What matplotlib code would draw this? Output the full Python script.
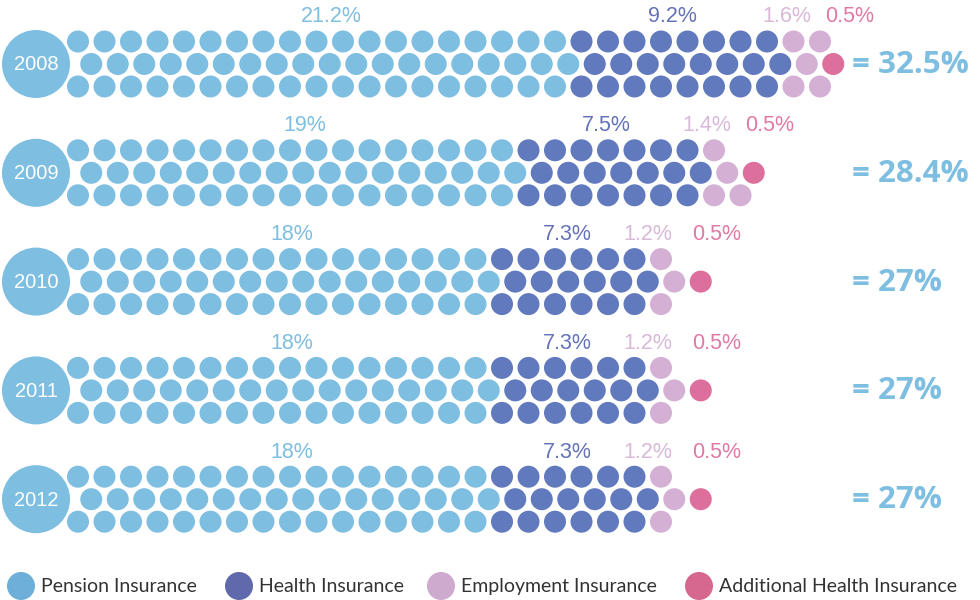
import matplotlib
matplotlib.use("Agg")
import matplotlib.pyplot as plt
from matplotlib.patches import Circle

# ---------------- data ----------------
years = ['2008', '2009', '2010', '2011', '2012']
pension_pct = [21.2, 19, 18, 18, 18]
health_pct = [9.2, 7.5, 7.3, 7.3, 7.3]
employment_pct = [1.6, 1.4, 1.2, 1.2, 1.2]
additional_pct = [0.5, 0.5, 0.5, 0.5, 0.5]
totals = [32.5, 28.4, 27, 27, 27]

# dots per row (top, middle, bottom) for each year
pension_dots = [[19, 19, 19], [17, 17, 17], [16, 16, 16], [16, 16, 16], [16, 16, 16]]
health_dots = [[8, 8, 8], [7, 7, 7], [6, 6, 6], [6, 6, 6], [6, 6, 6]]
employment_dots = [[2, 1, 2], [1, 1, 2], [1, 1, 1], [1, 1, 1], [1, 1, 1]]
additional_dots = [[0, 1, 0], [0, 1, 0], [0, 1, 0], [0, 1, 0], [0, 1, 0]]

categories = ['Pension Insurance', 'Health Insurance', 'Employment Insurance',
              'Additional Health Insurance']

# ---------------- style ----------------
dot_colors = ['#7DBEE1', '#6179BD', '#D4B0D4', '#DD6F9C']
label_colors = ['#7DBEE1', '#6472B9', '#D9B8D8', '#E07AA4']
legend_colors = ['#6DAFD8', '#5F69AC', '#CFAACF', '#D6678E']
total_color = '#7DBEE1'
year_color = '#7DBEE1'

pitch = 26.5
r_dot = 11
row_dy = 22.5
x_start = 78
block_y0 = 64
block_step = 108.8
year_cx = 36
year_r = 34

fig = plt.figure(figsize=(9.8, 6.0), dpi=100)
ax = fig.add_axes([0, 0, 1, 1])
ax.set_xlim(0, 980)
ax.set_ylim(600, 0)
ax.set_aspect('equal')
ax.axis('off')

pct_lists = [pension_pct, health_pct, employment_pct, additional_pct]
dot_lists = [pension_dots, health_dots, employment_dots, additional_dots]

for i, yr in enumerate(years):
    yc = block_y0 + block_step * i
    ax.add_patch(Circle((year_cx, yc), year_r, color=year_color, lw=0))
    ax.text(year_cx, yc + 1, yr, color='white', ha='center', va='center',
            fontsize=14.5, family='Liberation Sans')
    for row in range(3):
        y = yc + (row - 1) * row_dy
        x_off = x_start + (pitch / 2 if row == 1 else 0)
        k = 0
        for c in range(4):
            n = dot_lists[c][i][row]
            for _ in range(n):
                x = x_off + k * pitch
                ax.add_patch(Circle((x, y), r_dot, color=dot_colors[c], lw=0))
                k += 1
    # segment spans (min/max x over rows) for labels
    seg = []
    for c in range(4):
        lo, hi = 1e9, -1e9
        for row in range(3):
            x_off = x_start + (pitch / 2 if row == 1 else 0)
            before = sum(dot_lists[cc][i][row] for cc in range(c))
            n = dot_lists[c][i][row]
            if n > 0:
                lo = min(lo, x_off + before * pitch)
                hi = max(hi, x_off + (before + n - 1) * pitch)
        seg.append((lo, hi))
    label_y = yc - 47
    shifts = [8, -8, -20, 16]
    for c in range(4):
        lo, hi = seg[c]
        xm = (lo + hi) / 2 + shifts[c]
        ax.text(xm, label_y, f"{pct_lists[c][i]:g}%", color=label_colors[c],
                ha='center', va='center', fontsize=15.5, family='Liberation Sans')
    ax.text(852, yc + 1, f"= {totals[i]:g}%", color=total_color, ha='left',
            va='center', fontsize=22.5, fontweight='bold', family='Open Sans')

# legend
leg_x = [21, 239, 441, 699]
leg_y = 586
for c in range(4):
    ax.add_patch(Circle((leg_x[c], leg_y), 14, color=legend_colors[c], lw=0))
    ax.text(leg_x[c] + 20, leg_y + 6, categories[c], color='#333333', ha='left',
            va='baseline', fontsize=14, family='Lato')

fig.savefig('out.png', dpi=100, facecolor='white')
